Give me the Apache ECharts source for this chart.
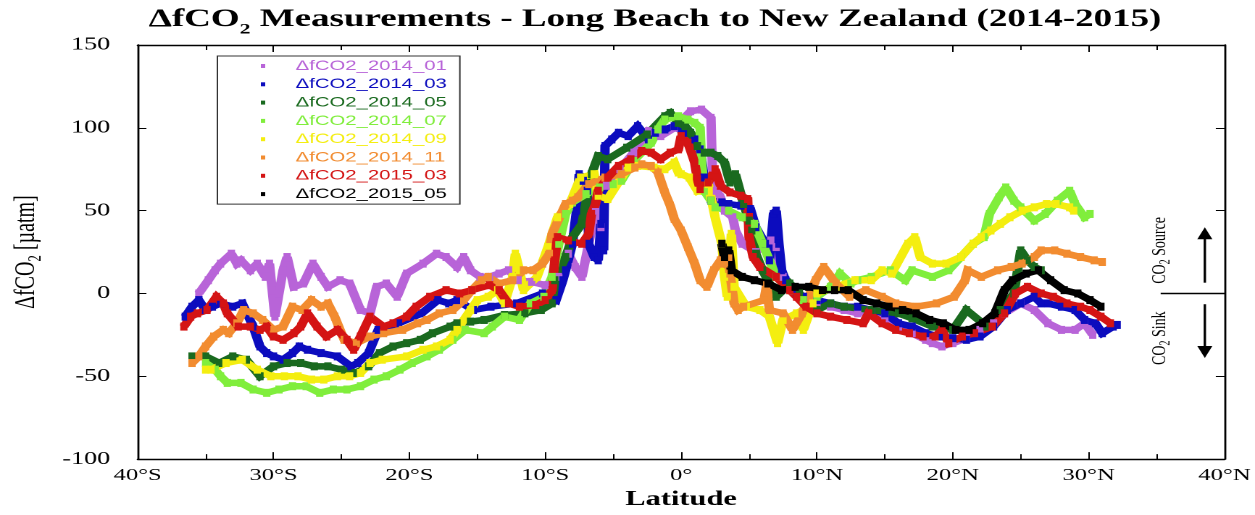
<!DOCTYPE html>
<html>
<head>
<meta charset="utf-8">
<script src="https://cdn.jsdelivr.net/npm/echarts@6/dist/echarts.min.js"></script>
<style>
  html, body { margin: 0; padding: 0; background: #fff; overflow: hidden; }
  #wrap { width: 1255px; height: 515px; overflow: hidden; }
  /* the plot is laid out narrow and widened horizontally for its wide-typeface look */
  #chart { width: 866px; height: 515px; transform: scaleX(1.44919); transform-origin: 0 0; }
</style>
</head>
<body>
<div id="wrap"><div id="chart"></div></div>
<script>
// ---- data: [latitude (deg, S negative), ΔfCO2 (µatm)] ----
const dfco2_2014_01 = [[-35.5,0],[-34.8,8],[-34.3,14],[-33.9,18],[-33.1,24],[-32.7,18],[-32.4,20],[-31.7,14],[-31.2,18],[-30.6,10],[-30.3,18],[-30.1,2],[-29.9,-14],[-29.6,0],[-29.3,14],[-29.0,22],[-28.5,4],[-27.8,6],[-27.1,18],[-26.5,10],[-26.0,4],[-25.1,8],[-24.4,6],[-23.6,-10],[-22.9,-12],[-22.4,4],[-21.7,6],[-20.9,-2],[-20.2,12],[-19.0,18],[-18.0,24],[-17.3,22],[-16.5,16],[-16.0,22],[-15.5,14],[-14.8,10],[-14.1,10],[-13.4,12],[-12.7,14],[-12.0,8],[-11.0,7],[-10.0,5],[-9.0,10],[-8.3,24],[-7.8,16],[-7.3,10],[-6.3,50],[-5.9,40],[-5.5,65],[-4.5,75],[-3.5,85],[-2.4,98],[-1.5,95],[-0.5,100],[0.7,110],[1.5,111],[2.2,106],[2.25,90],[2.3,76],[2.6,62],[2.9,58],[3.2,50],[3.8,46],[4.0,38],[4.5,30],[5.5,25],[6.6,32],[7.0,28],[7.5,10],[8.0,2],[9.0,-2],[10.0,-6],[11.0,-8],[12.0,-10],[13.0,-12],[14.0,-10],[15.0,-15],[16.0,-20],[17.0,-24],[18.0,-28],[18.5,-30],[19.2,-32],[20.0,-30],[21.0,-27],[22.0,-22],[23.0,-18],[23.8,-12],[25.0,-6],[26.0,-10],[27.0,-18],[28.0,-22],[29.0,-22],[29.7,-18],[30.3,-25]];

const dfco2_2014_03 = [[-36.5,-14],[-36.0,-8],[-35.5,-4],[-35.0,-10],[-34.5,-8],[-33.9,-6],[-33.0,-8],[-32.3,-6],[-31.5,-20],[-31.0,-32],[-30.5,-36],[-30.0,-38],[-29.3,-40],[-28.6,-36],[-28.1,-32],[-27.5,-34],[-26.5,-36],[-25.3,-38],[-24.3,-44],[-23.8,-42],[-23.0,-36],[-22.3,-22],[-20.8,-18],[-19.1,-12],[-17.9,-4],[-17.1,-6],[-16.5,-4],[-15.3,-10],[-14.0,-8],[-12.1,-6],[-10.2,0],[-9.2,-4],[-8.7,8],[-8.5,14],[-8.0,30],[-7.7,50],[-7.5,72],[-7.2,68],[-6.9,62],[-6.8,30],[-6.4,22],[-6.1,20],[-5.9,42],[-5.7,26],[-5.6,89],[-5.1,93],[-4.6,97],[-3.9,95],[-3.2,101],[-2.4,93],[-1.9,97],[-1.2,99],[-0.5,101],[0.3,97],[1.0,93],[1.4,87],[1.7,70],[2.2,56],[3.0,55],[3.5,54],[4.4,53],[5.1,51],[5.5,40],[6.2,30],[6.5,20],[6.8,48],[7.0,50],[7.2,30],[7.4,14],[7.7,8],[8.5,0],[9.0,-2],[10.0,-4],[11.0,-6],[12.0,-8],[13.0,-8],[14.0,-10],[15.0,-12],[16.0,-18],[17.0,-20],[18.0,-24],[19.0,-26],[20.0,-27],[21.0,-28],[22.0,-26],[23.0,-20],[24.0,-10],[25.0,-6],[26.0,-2],[26.5,-6],[27.0,-6],[28.0,-8],[29.0,-10],[29.7,-16],[30.5,-18],[31.0,-24],[31.8,-20],[32.1,-19]];

const dfco2_2014_05 = [[-36.0,-38],[-35.0,-38],[-34.0,-42],[-33.0,-38],[-32.0,-40],[-31.0,-50],[-30.0,-44],[-29.0,-42],[-28.0,-42],[-27.0,-44],[-26.0,-44],[-25.0,-46],[-24.0,-48],[-23.0,-44],[-22.2,-36],[-21.2,-32],[-20.2,-30],[-19.2,-28],[-18.3,-24],[-17.0,-20],[-16.5,-18],[-15.5,-17],[-14.5,-16],[-13.0,-13],[-11.5,-12],[-10.3,-10],[-9.5,-6],[-9.3,8],[-8.5,22],[-8.0,34],[-7.3,42],[-6.6,72],[-6.1,83],[-5.4,81],[-4.0,88],[-2.5,96],[-1.2,107],[-0.8,109],[-0.2,103],[0.3,101],[0.7,97],[1.2,89],[1.7,85],[2.2,85],[2.7,83],[3.2,79],[3.6,67],[4.0,72],[4.6,54],[5.0,44],[5.2,38],[5.5,24],[6.0,14],[7.0,-2],[8.0,6],[8.7,0],[10.0,-10],[11.0,-6],[12.0,-8],[14.0,-10],[16.0,-12],[17.0,-15],[18.5,-20],[20.0,-22],[21.0,-10],[22.5,-20],[23.5,-10],[24.5,0],[25.0,26],[25.5,20],[26.0,16],[26.5,14]];

const dfco2_2014_07 = [[-35.0,-42],[-34.3,-46],[-33.9,-50],[-33.4,-54],[-32.4,-54],[-31.5,-58],[-30.5,-60],[-29.6,-58],[-28.6,-56],[-27.6,-56],[-26.6,-60],[-25.6,-58],[-24.6,-58],[-23.6,-56],[-22.6,-52],[-21.7,-50],[-20.7,-46],[-19.8,-42],[-18.7,-38],[-17.8,-34],[-16.8,-28],[-15.9,-22],[-14.5,-24],[-13.9,-20],[-13.0,-14],[-11.9,-16],[-11.1,-6],[-10.1,-2],[-9.5,10],[-9.0,30],[-8.5,48],[-8.0,55],[-7.0,60],[-6.0,64],[-5.0,66],[-4.4,68],[-3.5,80],[-2.2,91],[-1.7,99],[-1.2,105],[-0.2,107],[0.5,105],[1.0,103],[1.4,100],[1.5,80],[1.7,62],[2.2,56],[2.5,52],[3.5,50],[4.5,46],[5.4,42],[6.0,30],[7.0,10],[8.0,2],[9.0,-4],[10.0,-2],[11.0,4],[11.7,12],[12.5,6],[13.0,8],[14.0,10],[15.4,14],[16.5,8],[17.0,14],[18.5,10],[19.7,14],[20.6,22],[21.5,30],[22.3,34],[22.7,48],[23.4,58],[23.9,64],[24.5,56],[25.0,52],[26.0,44],[26.8,48],[27.7,56],[28.6,62],[29.0,54],[29.7,46],[30.1,48]];

const dfco2_2014_09 = [[-35.0,-46],[-34.6,-46],[-33.5,-42],[-32.3,-40],[-31.2,-46],[-30.2,-50],[-29.2,-50],[-28.2,-50],[-27.2,-52],[-26.3,-52],[-25.3,-50],[-24.4,-50],[-23.6,-48],[-22.9,-42],[-22.0,-40],[-20.2,-38],[-19.0,-34],[-18.0,-32],[-17.0,-28],[-16.5,-22],[-15.5,-10],[-15.0,-4],[-14.2,-2],[-13.5,2],[-13.0,-6],[-12.4,10],[-12.2,24],[-11.9,14],[-11.6,2],[-10.6,10],[-9.8,28],[-9.1,46],[-8.2,54],[-7.4,70],[-6.4,72],[-6.1,59],[-5.4,57],[-3.9,76],[-3.2,77],[-2.0,76],[-1.2,75],[-0.5,79],[-0.2,73],[0.0,72],[0.6,70],[1.2,62],[2.0,66],[2.5,46],[3.0,30],[3.2,10],[3.4,-2],[3.7,36],[3.9,4],[4.8,-8],[5.8,-10],[6.5,-14],[7.1,-30],[7.5,-16],[8.5,-12],[9.0,-22],[9.7,-6],[10.0,0],[11.4,4],[12.8,8],[14.0,8],[14.8,14],[15.5,12],[16.7,30],[17.2,34],[17.6,22],[18.5,18],[19.5,18],[20.6,22],[21.5,30],[22.1,34],[22.8,38],[23.5,42],[24.2,46],[25.1,50],[26.0,52],[26.9,54],[27.6,54],[28.6,52],[28.9,50]];

const dfco2_2014_11 = [[-36.0,-42],[-35.5,-38],[-35.0,-32],[-34.4,-26],[-33.7,-22],[-33.3,-24],[-32.7,-18],[-32.2,-10],[-31.5,-12],[-30.8,-16],[-30.0,-22],[-29.3,-20],[-28.6,-8],[-27.9,-10],[-27.2,-4],[-26.5,-8],[-26.0,-6],[-25.5,-14],[-24.8,-28],[-23.9,-30],[-22.9,-26],[-21.9,-24],[-20.5,-22],[-19.4,-18],[-18.7,-16],[-17.8,-12],[-16.8,-10],[-16.0,-4],[-15.4,2],[-14.7,8],[-14.2,10],[-13.4,6],[-12.4,8],[-11.6,14],[-10.9,14],[-10.2,18],[-9.7,24],[-9.5,36],[-8.5,54],[-8.0,56],[-7.6,58],[-6.8,66],[-5.6,70],[-4.4,72],[-3.4,76],[-2.9,78],[-2.2,77],[-1.7,73],[-1.2,61],[-0.8,53],[-0.5,45],[0.0,38],[0.5,28],[1.0,18],[1.4,8],[1.9,4],[2.4,14],[2.9,20],[3.2,18],[3.5,22],[3.6,12],[3.9,-6],[4.2,-10],[4.6,-8],[6.1,-4],[6.3,5],[6.5,-10],[7.5,-12],[8.2,-22],[8.9,-12],[9.9,8],[10.5,16],[11.4,6],[12.4,-2],[13.6,2],[14.8,-2],[15.8,-6],[17.3,-8],[18.8,-6],[20.1,-2],[20.9,8],[21.1,14],[22.1,10],[23.3,14],[24.3,16],[25.1,18],[26.0,22],[26.5,26],[27.5,26],[28.4,24],[29.4,22],[30.4,20],[31.0,19]];

const dfco2_2015_03 = [[-36.6,-20],[-36.1,-14],[-35.6,-12],[-34.9,-10],[-34.2,-2],[-33.7,-6],[-33.4,-12],[-32.6,-20],[-31.7,-20],[-31.0,-22],[-30.5,-20],[-30.0,-26],[-29.3,-28],[-28.5,-24],[-28.0,-20],[-27.5,-12],[-26.8,-20],[-26.1,-26],[-25.3,-22],[-24.6,-28],[-24.1,-34],[-23.6,-26],[-22.9,-14],[-21.9,-20],[-21.2,-18],[-20.2,-14],[-19.5,-8],[-18.5,-2],[-17.3,2],[-16.3,0],[-15.4,2],[-14.1,5],[-13.4,2],[-12.7,-6],[-11.9,-8],[-10.7,-7],[-10.0,-4],[-9.5,2],[-9.3,20],[-9.1,34],[-8.3,32],[-7.3,30],[-6.8,36],[-6.6,48],[-6.3,54],[-6.1,62],[-5.4,70],[-4.6,77],[-3.7,81],[-2.9,86],[-2.2,85],[-1.5,81],[-0.8,85],[-0.2,87],[0.0,95],[0.5,91],[1.0,79],[1.2,69],[1.4,63],[2.0,67],[2.5,75],[2.9,65],[3.6,61],[4.4,59],[4.9,57],[5.0,34],[5.3,22],[5.8,16],[7.0,10],[8.0,2],[8.5,-2],[9.2,-8],[10.0,-12],[11.0,-14],[12.2,-16],[13.4,-18],[13.8,-12],[14.8,-18],[15.8,-22],[16.8,-24],[17.8,-26],[18.7,-26],[19.2,-22],[19.7,-30],[20.7,-26],[21.6,-24],[22.9,-20],[23.8,-12],[24.6,0],[25.5,4],[26.5,0],[27.4,-2],[28.4,-6],[29.4,-8],[30.1,-10],[30.9,-14],[31.6,-18]];

const dfco2_2015_05 = [[3.0,30],[3.2,22],[3.5,26],[3.7,14],[4.5,10],[5.4,8],[6.4,6],[7.4,2],[8.4,4],[9.4,4],[10.4,2],[11.3,2],[12.3,2],[13.4,-4],[14.4,-6],[15.3,-8],[16.3,-10],[17.3,-12],[18.3,-16],[19.3,-18],[20.2,-22],[21.2,-22],[22.2,-18],[23.1,-12],[23.8,2],[24.4,8],[25.4,12],[26.3,14],[27.2,8],[28.2,2],[29.2,0],[30.1,-4],[30.9,-8]];

const seriesNames = ['ΔfCO2_2014_01','ΔfCO2_2014_03','ΔfCO2_2014_05','ΔfCO2_2014_07','ΔfCO2_2014_09','ΔfCO2_2014_11','ΔfCO2_2015_03','ΔfCO2_2015_05'];
const seriesData = [dfco2_2014_01, dfco2_2014_03, dfco2_2014_05, dfco2_2014_07, dfco2_2014_09, dfco2_2014_11, dfco2_2015_03, dfco2_2015_05];
const seriesColors = ['#b864d8','#0c0cbe','#1a6a1f','#80ee3c','#f4ee10','#f28c30','#d41414','#000000'];

const latTicks = { min: -40, max: 40, step: 10 };
const valTicks = { min: -100, max: 150, step: 50 };

function latLabel(v) {
  if (v === 0) return '0°';
  return v < 0 ? (-v) + '°S' : v + '°N';
}

const SERIF = 'Liberation Serif, Times New Roman, serif';
const SANS = 'Liberation Sans, Arial, sans-serif';

const chart = echarts.init(document.getElementById('chart'), null, { renderer: 'canvas', devicePixelRatio: 2 });

const axisLine = { show: true, onZero: false, lineStyle: { color: '#000', width: 1.4 } };

chart.setOption({
  animation: false,
  backgroundColor: '#fff',
  title: {
    text: '{m|ΔfCO}{s|2}{m| Measurements - Long Beach to New Zealand (2014-2015)}',
    left: 452, top: 2, padding: 0, textAlign: 'center',
    textStyle: {
      rich: {
        m: { fontFamily: SERIF, fontWeight: 'bold', fontSize: 25.5, lineHeight: 35, color: '#000' },
        s: { fontFamily: SERIF, fontWeight: 'bold', fontSize: 15, lineHeight: 15, verticalAlign: 'bottom', color: '#000' }
      }
    }
  },
  grid: { left: 94, right: 18, top: 45, bottom: 55, containLabel: false },
  legend: {
    orient: 'vertical', left: 150, top: 56,
    padding: [3, 9, 3, 30], itemGap: 4.3, itemWidth: 3, itemHeight: 4, icon: 'rect',
    borderColor: '#333', borderWidth: 1, selectedMode: false,
    textStyle: { fontFamily: SANS, fontSize: 14, lineHeight: 14, padding: [0, 0, 0, 16] },
    data: seriesNames.map((n, i) => ({ name: n, textStyle: { color: seriesColors[i] } }))
  },
  xAxis: [
    {
      type: 'value', position: 'bottom', min: latTicks.min, max: latTicks.max, interval: latTicks.step,
      axisLine, splitLine: { show: false },
      axisTick: { show: true, inside: true, length: 7, lineStyle: { color: '#000', width: 1 } },
      minorTick: { show: true, splitNumber: 2, length: 5, lineStyle: { color: '#000', width: 1 } },
      axisLabel: { formatter: latLabel, fontFamily: SERIF, fontSize: 17, color: '#000', margin: 8 },
      name: 'Latitude', nameLocation: 'middle', nameGap: 29,
      nameTextStyle: { fontFamily: SERIF, fontWeight: 'bold', fontSize: 21, color: '#000' }
    },
    {
      type: 'value', position: 'top', min: latTicks.min, max: latTicks.max, interval: latTicks.step,
      axisLine, splitLine: { show: false }, axisLabel: { show: false },
      axisTick: { show: true, inside: true, length: 7, lineStyle: { color: '#000', width: 1 } },
      minorTick: { show: true, splitNumber: 2, length: 5, lineStyle: { color: '#000', width: 1 } }
    }
  ],
  yAxis: [
    {
      type: 'value', position: 'left', min: valTicks.min, max: valTicks.max, interval: valTicks.step,
      axisLine, splitLine: { show: false },
      axisTick: { show: true, inside: true, length: 6, lineStyle: { color: '#000', width: 1 } },
      axisLabel: { fontFamily: SERIF, fontSize: 18, color: '#000', margin: 19 },
      name: '{m|ΔfCO}{s|2}{m| [µatm]}', nameLocation: 'middle', nameRotate: 90, nameGap: 64,
      nameTextStyle: {
        rich: {
          m: { fontFamily: SERIF, fontSize: 20, lineHeight: 26, color: '#000' },
          s: { fontFamily: SERIF, fontSize: 13, lineHeight: 13, verticalAlign: 'bottom', color: '#000' }
        }
      }
    },
    {
      type: 'value', position: 'right', min: valTicks.min, max: valTicks.max, interval: valTicks.step,
      axisLine, splitLine: { show: false }, axisLabel: { show: false },
      axisTick: { show: true, inside: true, length: 6, lineStyle: { color: '#000', width: 1 } }
    }
  ],
  series: seriesData.map((d, i) => ({
    name: seriesNames[i], type: 'line', data: d,
    xAxisIndex: 0, yAxisIndex: 0,
    symbol: 'rect', symbolSize: [5, 8], showSymbol: true,
    lineStyle: { color: seriesColors[i], width: 6.5, join: 'miter', miterLimit: 2 },
    itemStyle: { color: seriesColors[i] },
    emphasis: { disabled: true }, silent: true
  }))
});

// source / sink annotation at the right edge of the plot
const toPx = (lat, v) => chart.convertToPixel({ xAxisIndex: 0, yAxisIndex: 0 }, [lat, v]);
const zeroL = toPx(35.3, 0), zeroR = toPx(40, 0);
const upBase = toPx(38.55, 6.5), upTip = toPx(38.55, 40);
const dnBase = toPx(38.55, -6.5), dnTip = toPx(38.55, -39);
const srcPos = toPx(35.25, 26), sinkPos = toPx(35.25, -27);
const headW = 5.2, headH = 12;
const annStyle = { stroke: '#000', lineWidth: 1.7 };
const subRich = {
  m: { fontFamily: SERIF, fontSize: 14, lineHeight: 18, fill: '#000' },
  s: { fontFamily: SERIF, fontSize: 10, lineHeight: 10, verticalAlign: 'bottom', fill: '#000' }
};
chart.setOption({
  graphic: [
    { type: 'line', shape: { x1: zeroL[0], y1: zeroL[1], x2: zeroR[0], y2: zeroR[1] }, style: { stroke: '#000', lineWidth: 1.5 }, silent: true },
    { type: 'line', shape: { x1: upBase[0], y1: upBase[1], x2: upTip[0], y2: upTip[1] + headH - 1 }, style: annStyle, silent: true },
    { type: 'polygon', shape: { points: [[upTip[0], upTip[1]], [upTip[0] - headW, upTip[1] + headH], [upTip[0] + headW, upTip[1] + headH]] }, style: { fill: '#000' }, silent: true },
    { type: 'line', shape: { x1: dnBase[0], y1: dnBase[1], x2: dnTip[0], y2: dnTip[1] - headH + 1 }, style: annStyle, silent: true },
    { type: 'polygon', shape: { points: [[dnTip[0], dnTip[1]], [dnTip[0] - headW, dnTip[1] - headH], [dnTip[0] + headW, dnTip[1] - headH]] }, style: { fill: '#000' }, silent: true },
    { type: 'text', x: srcPos[0], y: srcPos[1], rotation: Math.PI / 2, silent: true,
      style: { text: '{m|CO}{s|2}{m| Source}', rich: subRich, align: 'center', verticalAlign: 'middle' } },
    { type: 'text', x: sinkPos[0], y: sinkPos[1], rotation: Math.PI / 2, silent: true,
      style: { text: '{m|CO}{s|2}{m| Sink}', rich: subRich, align: 'center', verticalAlign: 'middle' } }
  ]
});
</script>
</body>
</html>
